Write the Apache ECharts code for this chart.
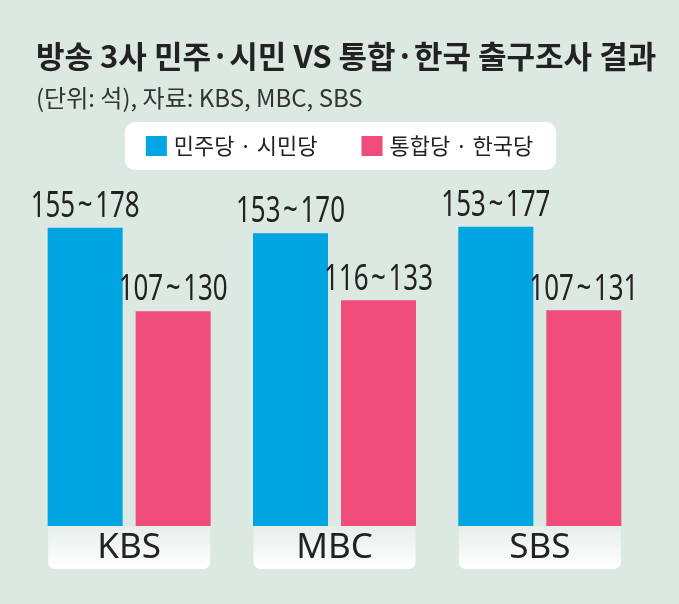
<!DOCTYPE html>
<html><head><meta charset="utf-8">
<script src="https://cdn.jsdelivr.net/npm/echarts@6/dist/echarts.min.js"></script>
<style>html,body{margin:0;padding:0;background:#dce8e2}#c{width:679px;height:604px}</style>
</head><body><div id="c"></div>
<script>
const categories = ['KBS', 'MBC', 'SBS'];
const seriesNames = ['민주당 · 시민당', '통합당 · 한국당'];
const demValues = [164.5, 161.5, 165];
const uniValues = [118.5, 124.5, 119];
const demLabels = ['155~178', '153~170', '153~177'];
const uniLabels = ['107~130', '116~133', '107~131'];
const titleText = '방송 3사 민주·시민 VS 통합·한국 출구조사 결과';
const subText = '(단위: 석), 자료: KBS, MBC, SBS';

const SANS = "'Noto Sans','Noto Sans CJK KR',sans-serif";
const KR = "'Noto Sans CJK KR','Noto Sans',sans-serif";
const BAR_W = 75, GAP_PX = 13;

const chart = echarts.init(document.getElementById('c'));

function labelSeries(values, labels, side){
  return {
    type:'custom', name:'lbl'+side, silent:true, z:10, clip:false,
    data: values.map((v,i)=>[i, v]),
    renderItem(params, api){
      const pt = api.coord([api.value(0), api.value(1)]);
      const off = side * (BAR_W + GAP_PX) / 2;
      const txt = labels[params.dataIndex].replace('~', '\u200A~\u200A');
      return {type:'text', x: pt[0] + off, y: pt[1] - 3, scaleX: 0.72,
        style:{text: txt, x:0, y:0, align:'center', verticalAlign:'bottom',
          fontSize:36, fontFamily:SANS, fill:'#222'}};
    }
  };
}

chart.setOption({
  backgroundColor:'#dce8e2',
  animation:false,
  title:[
    {text:titleText, left:31, top:36, textStyle:{fontFamily:KR, fontWeight:'bold', fontSize:31, color:'#222'}},
    {text:subText, left:31, top:81, textStyle:{fontFamily:KR, fontWeight:'normal', fontSize:24, color:'#333'}}
  ],
  legend:{
    data:seriesNames,
    top:122, left:'center', backgroundColor:'#fff', borderRadius:10,
    padding:[13,23,13,21], itemWidth:21, itemHeight:20, itemGap:44,
    icon:'rect',
    textStyle:{fontFamily:KR, fontSize:22, color:'#222', padding:[0,0,0,2]}
  },
  grid:{left:26.5, right:36.5, top:163.4, bottom:78},
  xAxis:{
    type:'category', data:categories,
    axisLine:{show:false}, axisTick:{show:false},
    axisLabel:{
      margin:0, verticalAlign:'top', align:'center',
      width:162, height:43, lineHeight:45,
      fontSize:35, fontFamily:SANS, color:'#222',
      backgroundColor:{type:'linear',x:0,y:0,x2:0,y2:1,colorStops:[{offset:0,color:'#e6eeea'},{offset:1,color:'#ffffff'}]},
      borderRadius:[0,0,7,7]
    }
  },
  yAxis:{type:'value', min:0, max:200, show:false, splitLine:{show:false}},
  series:[
    {name:seriesNames[0], type:'bar', data:demValues, barWidth:BAR_W, barGap:(GAP_PX/BAR_W*100)+'%',
      itemStyle:{color:'#00a5e1'}},
    {name:seriesNames[1], type:'bar', data:uniValues, barWidth:BAR_W,
      itemStyle:{color:'#ef4b7b'}},
    labelSeries(demValues, demLabels, -1),
    labelSeries(uniValues, uniLabels, 1)
  ]
});
</script></body></html>
